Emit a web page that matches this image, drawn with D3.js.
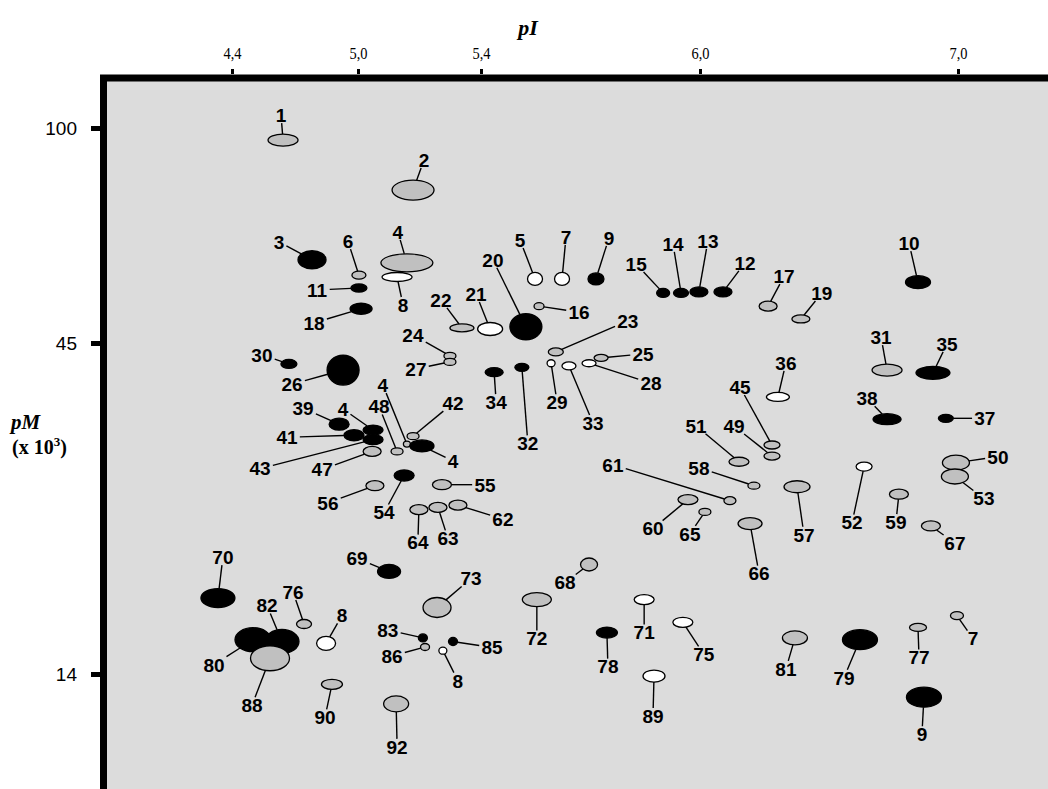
<!DOCTYPE html>
<html>
<head>
<meta charset="utf-8">
<script src="https://cdn.jsdelivr.net/npm/d3@7"></script>
<style>
  body { margin: 0; background: #fff; }
  svg { display: block; }
</style>
</head>
<body>
<svg id="chart" width="1048" height="789"></svg>
<script>
// Axes
const pITicks = [4.4, 5.0, 5.4, 6.0, 7.0];
const mwTicks = [100, 45, 14];

// Spots (pI, pM x10^3)
const spotNames = ["1","2","3","4","5","6","7","8","9","10",
  "11","12","13","14","15","16","17","18","19","20",
  "21","22","23","24","25","26","27","28","29","30",
  "31","32","33","34","35","36","37","38","39",
  "4","41","42","43","4","4","45","47","48","49","50",
  "51","52","53","54","55","56","57","58","59","60","61","62","63","64","65","66","67","68","69","70","71","72","73",
  "75","76","7","77","78","79","80","81","82","83","8","85","86","8","88","89","90","92","9"];

const spotPI = [4.643,5.179,4.781,5.159,5.548,5.003,5.622,5.127,5.715,6.845,
  5.003,6.089,5.997,5.948,5.899,5.559,6.264,5.010,6.391,5.523,
  5.425,5.338,5.605,5.299,5.729,4.929,5.299,5.696,5.592,4.671,
  6.725,5.512,5.641,5.436,6.903,6.302,6.953,6.725,4.910,
  5.049,4.981,5.179,5.049,5.159,5.208,6.279,5.046,5.127,6.279,6.992,
  6.151,6.636,6.988,5.150,5.273,5.055,6.376,6.209,6.771,5.967,6.116,5.325,5.260,5.198,6.019,6.194,6.895,5.696,5.101,4.333,5.847,5.553,5.257,
  5.953,4.743,6.996,6.845,5.745,6.620,4.500,6.368,4.638,5.211,4.848,5.309,5.218,5.276,4.581,5.874,4.876,5.124,6.868];

const spotMW = [95.6,79.4,61.3,60.6,57.1,57.9,57.1,57.5,57.1,56.4,
  55.2,54.4,54.4,54.2,54.2,51.6,51.6,51.1,49.2,47.8,
  47.4,47.6,43.6,43.0,42.7,40.9,42.1,41.9,41.9,41.8,
  40.9,41.3,41.5,40.6,40.5,37.2,34.5,34.4,33.8,
  33.1,32.5,32.4,32.0,31.5,31.3,31.4,30.7,30.7,30.2,29.5,
  29.6,29.1,28.1,28.2,27.3,27.2,27.1,27.2,26.4,25.9,25.8,25.4,25.2,25.0,24.8,23.8,23.6,20.6,20.1,18.3,18.2,18.2,17.7,
  16.8,16.7,17.2,16.5,16.2,15.8,15.8,15.9,15.7,15.9,15.6,15.7,15.4,15.2,14.8,13.9,13.5,12.6,12.9];

// k = black, g = grey, w = white
const spotShade = ["g","g","k","g","w","g","w","w","k","k",
  "k","k","k","k","k","g","g","k","g","k",
  "w","g","g","g","g","k","g","w","w","k",
  "g","k","w","k","k","w","k","k","k",
  "k","k","g","k","g","k","g","g","g","g","g",
  "g","w","g","k","g","g","g","g","g","g","g","g","g","g","g","g","g","g","k","k","w","g","g",
  "w","g","g","g","k","k","k","g","k","k","w","k","g","w","g","w","g","g","k"];

// Layout: spot half-axes (px) and label offsets (px)
const spotRadii = [[15,6],[21,10],[14,9],[26,9],[7.5,6.5],[7,4],[7.5,6.5],[15,4.5],[8,6],[12.5,6.5],
  [8,4],[9,5],[9,5],[7.5,4.5],[6.5,4.5],[5,3.5],[9,5],[11,5.5],[9,4],[16,13],
  [12.5,6.5],[12,4],[7.5,4],[6,3.5],[7,3.5],[16,15],[6,3.5],[7,3.5],[4,3.5],[8,4.5],
  [15,6],[7,4],[7,4],[9,4.5],[17,6.5],[11.5,4.5],[7.5,4],[14,5.5],[10,6],
  [10,5],[10,5.5],[6,3.5],[10,5],[3.5,3],[12,6],[8,4],[9,5],[6,3.5],[8,4],[13.5,7.5],
  [10,4.5],[8,4.5],[13.5,7.5],[10,5.5],[9.5,5],[9,5],[13,6],[6,3.5],[9.5,5],[10,5],[6,4],[9,5],[9,5],[9,5],[6,3.5],[12,6],[9.5,5],[8.5,6.5],[11.5,7],[17,9.5],[10,5],[14.5,7],[14,10],
  [10,5],[7.5,4.5],[6.5,4],[8.5,4],[10.5,5.5],[17.5,10],[18,12],[12.5,7],[17,12],[4.5,4],[9.5,7],[4.5,4],[4.5,3.5],[4,3.5],[19.5,12.5],[11,6],[10.5,5],[12.5,8],[17.5,10]];

const labelOffsets = [[-2,-25],[11,-30],[-33,-18],[-9,-31],[-15,-39],[-11,-34],[4,-42],[6,28],[13,-41],[-9,-39],
  [-42,2],[22,-29],[9,-51],[-8,-49],[-27,-29],[40,6],[16,-30],[-47,14],[21,-26],[-33,-67],
  [-14,-35],[-21,-28],[72,-31],[-37,-21],[42,-4],[-51,14],[-34,7],[62,20],[6,39],[-27,-9],
  [-6,-33],[6,76],[24,57],[2,30],[14,-29],[8,-34],[39,0],[-20,-21],[-36,-16],
  [-30,-21],[-67,2],[40,-33],[-113,29],[-24,-59],[31,15],[-32,-58],[-50,18],[-18,-45],[-38,-30],[42,-6],
  [-43,-36],[-12,56],[29,22],[-20,37],[43,0],[-47,17],[7,48],[-55,-18],[-3,28],[-35,29],[-117,-36],[45,14],[10,31],[-1,33],[-15,22],[9,50],[24,17],[-24,18],[-32,-13],[5,-41],[0,33],[0,39],[34,-29],
  [21,32],[-11,-32],[16,23],[1,30],[1,34],[-16,38],[-39,25],[-9,31],[-15,-36],[-35,-8],[16,-28],[39,6],[-33,9],[15,30],[-18,47],[-1,40],[-7,33],[1,43],[-2,37]];

const shadeFill = { k: "#000000", g: "#c0c0c0", w: "#ffffff" };

const svg = d3.select("#chart");

// Echelles (pI non linéaire, pM logarithmique)
const x = d3.scaleLinear().domain(pITicks).range([232, 358, 481, 700, 958]);
const y = d3.scaleLog().domain(mwTicks).range([128, 343, 674]);

// Cadre du gel
svg.append("rect")
  .attr("x", 103.5).attr("y", 78)
  .attr("width", 1000).attr("height", 800)
  .attr("fill", "#dcdcdc")
  .attr("stroke", "#000")
  .attr("stroke-width", 7);

// Axe du haut (pI)
const xAxis = svg.append("g")
  .attr("transform", "translate(0,74)")
  .call(d3.axisTop(x).tickValues(pITicks).tickSize(5).tickPadding(10)
    .tickFormat(d => d3.format(".1f")(d).replace(".", ",")));
xAxis.select(".domain").remove();
xAxis.selectAll(".tick line").attr("stroke", "#000").attr("stroke-width", 3);
xAxis.selectAll(".tick text")
  .attr("fill", "#000")
  .attr("transform", "scale(0.85,1)")
  .style("font-family", "'Liberation Serif', serif")
  .style("font-size", "17px");

// Axe de gauche (pM)
const yAxis = svg.append("g")
  .attr("transform", "translate(100,0)")
  .call(d3.axisLeft(y).tickValues(mwTicks).tickSize(9).tickPadding(14).tickFormat(d3.format("d")));
yAxis.select(".domain").remove();
yAxis.selectAll(".tick line").attr("stroke", "#000").attr("stroke-width", 5);
yAxis.selectAll(".tick text")
  .attr("fill", "#000")
  .style("font-family", "'Liberation Sans', Arial, sans-serif")
  .style("font-size", "19px");

// Titres
svg.append("text")
  .attr("x", 528).attr("y", 35)
  .attr("text-anchor", "middle")
  .style("font-family", "'Liberation Serif', serif")
  .style("font-weight", "bold").style("font-style", "italic")
  .style("font-size", "22px")
  .text("pI");

svg.append("text")
  .attr("x", 11).attr("y", 429)
  .style("font-family", "'Liberation Serif', serif")
  .style("font-weight", "bold").style("font-style", "italic")
  .style("font-size", "21px")
  .text("pM");

const unit = svg.append("text")
  .attr("x", 12).attr("y", 454)
  .style("font-family", "'Liberation Serif', serif")
  .style("font-weight", "bold")
  .style("font-size", "20px");
unit.append("tspan").text("(x 10");
unit.append("tspan").attr("dy", -8).style("font-size", "13px").text("3");
unit.append("tspan").attr("dy", 8).text(")");

// Données des spots
const spots = spotNames.map((name, i) => ({
  name,
  cx: x(spotPI[i]),
  cy: y(spotMW[i]),
  rx: spotRadii[i][0],
  ry: spotRadii[i][1],
  dx: labelOffsets[i][0],
  dy: labelOffsets[i][1],
  fill: shadeFill[spotShade[i]]
}));

// Traits de rappel : du bord de l'ellipse jusqu'au bord de l'étiquette
function leader(d) {
  const te = 1 / Math.sqrt((d.dx / d.rx) ** 2 + (d.dy / d.ry) ** 2);
  const hw = d.name.length * 5.4 + 2, hh = 8;
  const tl = Math.min(d.dx ? hw / Math.abs(d.dx) : Infinity, d.dy ? hh / Math.abs(d.dy) : Infinity);
  return { x1: d.cx + d.dx * te, y1: d.cy + d.dy * te, x2: d.cx + d.dx * (1 - tl), y2: d.cy + d.dy * (1 - tl), ok: 1 - tl > te };
}

svg.append("g")
  .selectAll("line")
  .data(spots.map(leader).filter(l => l.ok))
  .join("line")
  .attr("x1", l => l.x1).attr("y1", l => l.y1)
  .attr("x2", l => l.x2).attr("y2", l => l.y2)
  .attr("stroke", "#000")
  .attr("stroke-width", 1.4);

svg.append("g")
  .selectAll("ellipse")
  .data(spots)
  .join("ellipse")
  .attr("cx", d => d.cx).attr("cy", d => d.cy)
  .attr("rx", d => d.rx).attr("ry", d => d.ry)
  .attr("fill", d => d.fill)
  .attr("stroke", "#000")
  .attr("stroke-width", 1.3);

svg.append("g")
  .selectAll("text")
  .data(spots)
  .join("text")
  .attr("x", d => d.cx + d.dx)
  .attr("y", d => d.cy + d.dy)
  .attr("dy", "0.36em")
  .attr("text-anchor", "middle")
  .style("font-family", "'Liberation Sans', Arial, sans-serif")
  .style("font-weight", "bold")
  .style("font-size", "19px")
  .text(d => d.name);
</script>
</body>
</html>
